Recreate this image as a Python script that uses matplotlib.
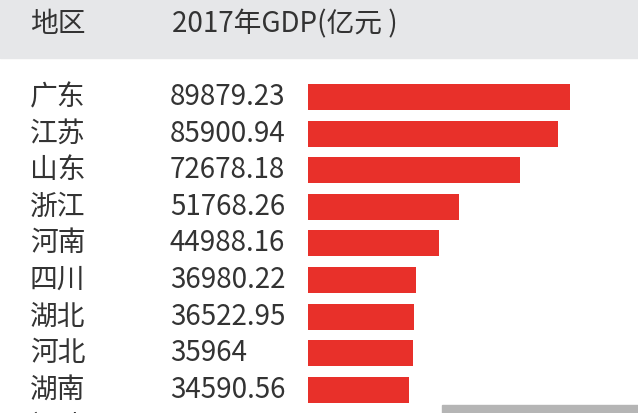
import matplotlib
matplotlib.use('Agg')
import matplotlib.pyplot as plt

plt.rcParams['font.family'] = ['Noto Sans CJK SC', 'DejaVu Sans']

regions = ['广东', '江苏', '山东', '浙江', '河南', '四川', '湖北', '河北', '湖南', '福建']
gdp = [89879.23, 85900.94, 72678.18, 51768.26, 44988.16, 36980.22, 36522.95, 35964, 34590.56, 32298.28]
labels = ['89879.23', '85900.94', '72678.18', '51768.26', '44988.16', '36980.22', '36522.95', '35964', '34590.56', '32298.28']

W, H = 638, 413
fig = plt.figure(figsize=(W / 100, H / 100), dpi=100)
fig.patch.set_facecolor('white')

# header band
bg = fig.add_axes([0, 0, 1, 1])
bg.set_xlim(0, W); bg.set_ylim(H, 0); bg.axis('off')
bg.add_patch(plt.Rectangle((0, 0), W, 58, color='#e6e7e9', zorder=0))
bg.add_patch(plt.Rectangle((442, 405), W - 442, 10, color='#b5b5b5', zorder=0))
bg.text(30, 24, '地区', fontsize=20, color='#333333', va='center')
bg.text(172, 24, '2017年GDP(亿元 )', fontsize=20, color='#333333', va='center')

row0, step = 97, 36.6
ys = [row0 + step * i for i in range(len(regions))]
for y, r, lab in zip(ys, regions, labels):
    bg.text(30, y, r, fontsize=20, color='#333333', va='center')
    bg.text(170, y, lab, fontsize=20, color='#333333', va='center')

# bars
left = 308
ax = fig.add_axes([left / W, 0, (W - left) / W, 1])
ax.set_xlim(0, gdp[0] * (W - left) / 262)
ax.set_ylim(H, 0)
ax.axis('off')
ax.barh(ys, gdp, height=26, color='#e8302a', left=0)

fig.savefig('out.png', dpi=100)
